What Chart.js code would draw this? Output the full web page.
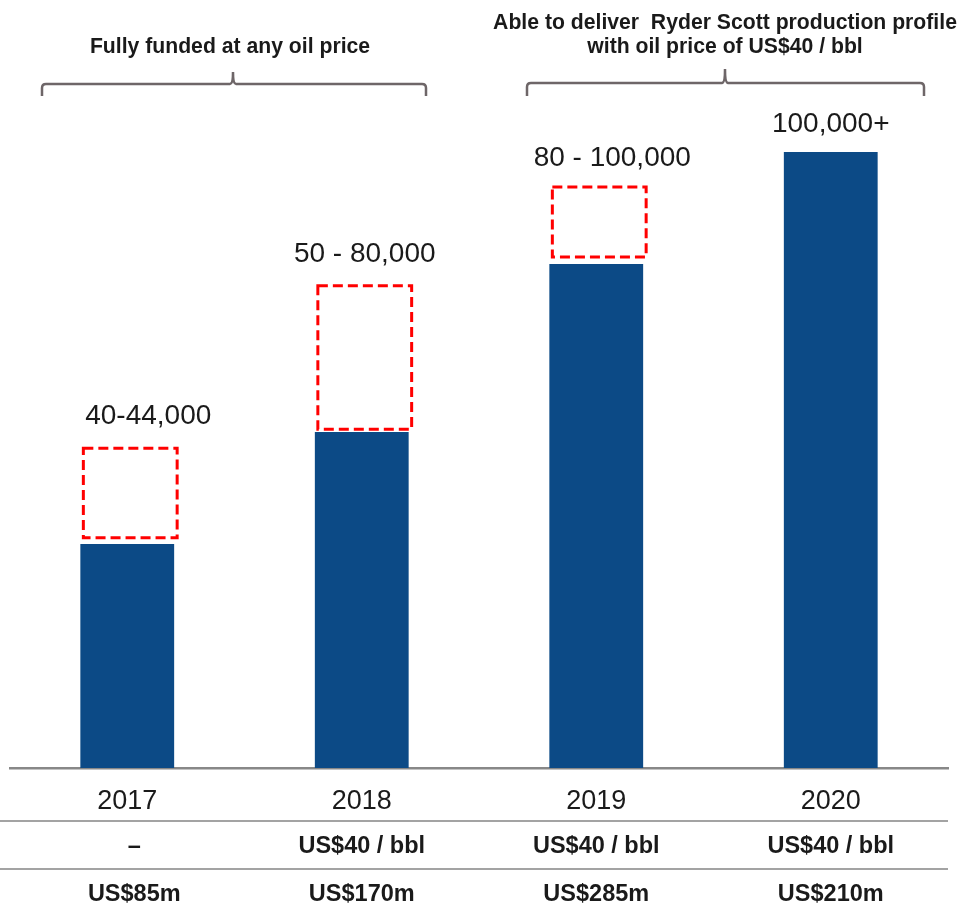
<!DOCTYPE html>
<html>
<head>
<meta charset="utf-8">
<script src="https://cdn.jsdelivr.net/npm/chart.js@4.4.0/dist/chart.umd.min.js"></script>
<style>
  body { margin: 0; background: #fff; }
  #wrap { width: 958px; height: 914px; }
</style>
</head>
<body>
<div id="wrap"><canvas id="prodchart" width="958" height="914"></canvas></div>
<script>
// production profile (bar heights, arbitrary units)
var years = ['2017', '2018', '2019', '2020'];
var baseCase = [40, 60, 90, 110];
var upsideLow = [41.1, 60.5, 91.25, null];
var upsideHigh = [57.1, 86.1, 103.75, null];
var rangeLabels = ['40-44,000', '50 - 80,000', '80 - 100,000', '100,000+'];
var oilPriceRow = ['\u2013', 'US$40 / bbl', 'US$40 / bbl', 'US$40 / bbl'];
var capexRow = ['US$85m', 'US$170m', 'US$285m', 'US$210m'];

var textColor = '#1a1a1a';
var barColor = '#0c4a86';

var upsideRanges = upsideLow.map(function(lo, i) {
    return lo === null ? null : [lo, upsideHigh[i]];
});

// dashed red boxes for the upside range
var dashedBoxes = {
    id: 'dashedBoxes',
    afterDatasetsDraw: function(chart) {
        var ctx = chart.ctx;
        var meta = chart.getDatasetMeta(1);
        ctx.save();
        ctx.strokeStyle = '#ff0000';
        ctx.lineWidth = 3;
        ctx.setLineDash([10, 5]);
        meta.data.forEach(function(bar, i) {
            if (upsideRanges[i] === null) return;
            var top = Math.min(bar.y, bar.base);
            var bottom = Math.max(bar.y, bar.base);
            var left = bar.x - bar.width / 2 + 3;
            ctx.strokeRect(left, top, bar.width, bottom - top);
        });
        ctx.restore();
    }
};

// range labels, brackets, headers and the little table under the axis
var annotations = {
    id: 'annotations',
    afterDraw: function(chart) {
        var ctx = chart.ctx;
        var xs = chart.scales.x;
        var ys = chart.scales.y;
        var shift = [21, 3, 16, 0];
        var gap = [32, 32, 29, 28];
        var colShift = [7, 0, 0, 0];
        ctx.save();

        // value labels
        ctx.fillStyle = textColor;
        ctx.font = '28px "Liberation Sans", Arial, sans-serif';
        ctx.textAlign = 'center';
        ctx.textBaseline = 'middle';
        rangeLabels.forEach(function(lbl, i) {
            var topVal = upsideHigh[i] !== null ? upsideHigh[i] : baseCase[i];
            var y = ys.getPixelForValue(topVal) - gap[i];
            ctx.fillText(lbl, xs.getPixelForValue(i) + shift[i], y);
        });

        // headers
        ctx.font = 'bold 21.2px "Liberation Sans", Arial, sans-serif';
        ctx.fillText('Fully funded at any oil price', 230, 47);
        ctx.fillText('Able to deliver  Ryder Scott production profile', 725, 23);
        ctx.fillText('with oil price of US$40 / bbl', 725, 47);

        // brackets
        function bracket(x1, x2, xm, y, yTop, yEnd) {
            ctx.beginPath();
            ctx.moveTo(x1, yEnd);
            ctx.lineTo(x1, y + 4);
            ctx.quadraticCurveTo(x1, y, x1 + 4, y);
            ctx.lineTo(xm - 3, y);
            ctx.quadraticCurveTo(xm, y, xm, yTop);
            ctx.quadraticCurveTo(xm, y, xm + 3, y);
            ctx.lineTo(x2 - 4, y);
            ctx.quadraticCurveTo(x2, y, x2, y + 4);
            ctx.lineTo(x2, yEnd);
            ctx.stroke();
        }
        ctx.strokeStyle = '#6e6668';
        ctx.lineWidth = 2.5;
        bracket(42, 426, 233, 84, 72, 96);
        bracket(527, 924, 725, 83, 69, 96);

        // table dividers
        ctx.strokeStyle = '#a3a3a3';
        ctx.lineWidth = 2;
        [821, 869].forEach(function(y) {
            ctx.beginPath();
            ctx.moveTo(0, y);
            ctx.lineTo(948, y);
            ctx.stroke();
        });

        // table rows
        ctx.fillStyle = textColor;
        ctx.font = 'bold 23.5px "Liberation Sans", Arial, sans-serif';
        oilPriceRow.forEach(function(t, i) {
            ctx.fillText(t, xs.getPixelForValue(i) + colShift[i], 847);
        });
        capexRow.forEach(function(t, i) {
            ctx.fillText(t, xs.getPixelForValue(i) + colShift[i], 895);
        });
        ctx.restore();
    }
};

var ctx = document.getElementById('prodchart');
var prodChart = new Chart(ctx, {
    type: 'bar',
    data: {
        labels: years,
        datasets: [
            {
                label: 'Base',
                data: baseCase,
                backgroundColor: barColor,
                borderWidth: 0,
                grouped: false,
                barPercentage: 0.4,
                categoryPercentage: 1.0
            },
            {
                label: 'Upside',
                data: upsideRanges,
                backgroundColor: 'rgba(0,0,0,0)',
                borderWidth: 0,
                grouped: false,
                barPercentage: 0.4,
                categoryPercentage: 1.0
            }
        ]
    },
    options: {
        responsive: false,
        animation: false,
        layout: { padding: { top: 40, left: 10, right: 10, bottom: 0 } },
        plugins: {
            legend: { display: false },
            tooltip: { enabled: false }
        },
        scales: {
            x: {
                grid: { display: false, drawTicks: false },
                border: { color: '#888888', width: 2.5 },
                ticks: {
                    color: textColor,
                    padding: 17,
                    font: { family: '"Liberation Sans", Arial, sans-serif', size: 27 }
                },
                afterFit: function(scale) { scale.height = 146; }
            },
            y: {
                display: false,
                min: 0,
                max: 130
            }
        }
    },
    plugins: [dashedBoxes, annotations]
});
</script>
</body>
</html>
